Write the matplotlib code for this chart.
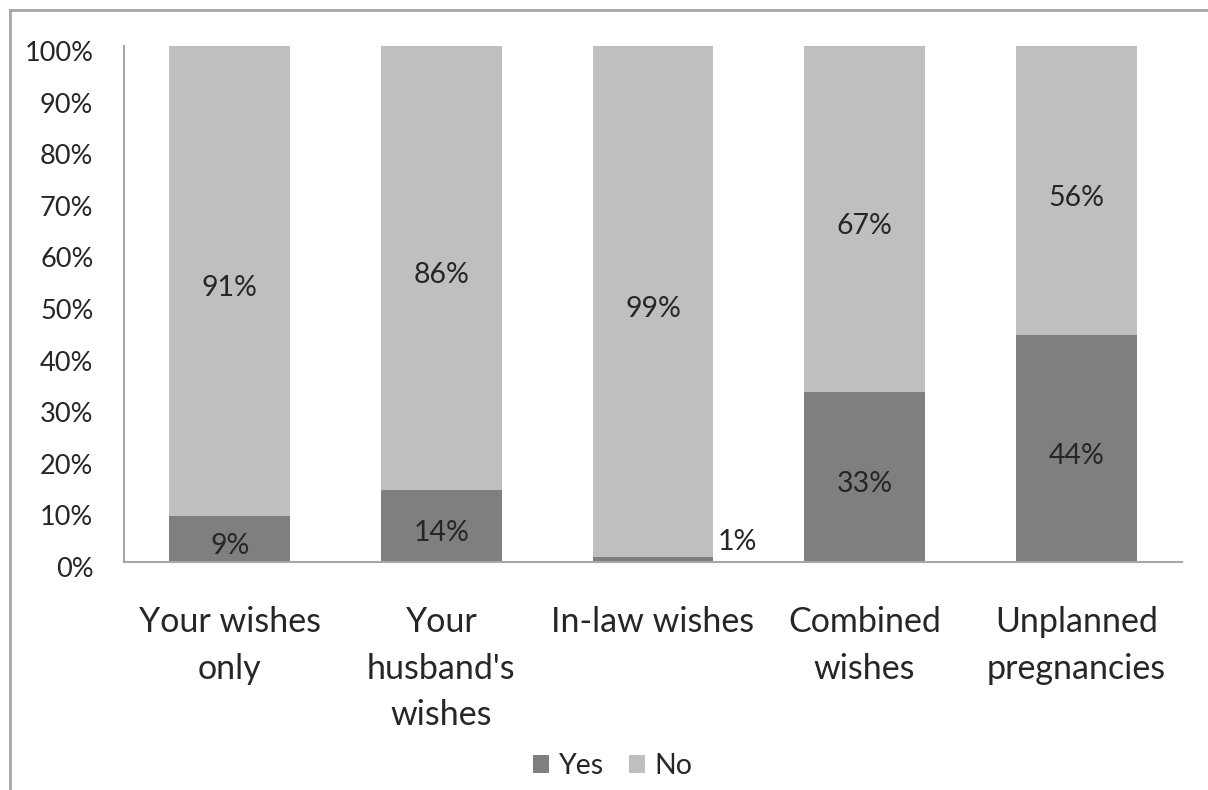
import matplotlib.pyplot as plt
import matplotlib.transforms as mtransforms
import numpy as np
from matplotlib.lines import Line2D

plt.rcParams['font.family'] = ['Lato', 'DejaVu Sans']

# data
categories = ["Your wishes\nonly", "Your\nhusband's\nwishes", "In-law wishes",
              "Combined\nwishes", "Unplanned\npregnancies"]
yes = [9, 14, 1, 33, 44]
no = [91, 86, 99, 67, 56]

yesColor = "#7f7f7f"
noColor = "#bfbfc1"
textColor = "#262626"
lineColor = "#a6a6a6"

fig = plt.figure(figsize=(12.08, 7.9), dpi=100)
ax = fig.add_axes([124/1208, 1 - 562/790, (1182-124)/1208, (562-46)/790])

x = np.arange(len(categories))
w = 0.57
ax.bar(x, yes, w, color=yesColor, label="Yes")
ax.bar(x, no, w, bottom=yes, color=noColor, label="No")

# data labels
for i in range(len(categories)):
    if yes[i] < 5:
        ax.text(x[i] + w/2 + 0.02, yes[i] + 2.8, f"{yes[i]}%", ha="left", va="center",
                fontsize=20.5, color=textColor)
    else:
        ax.text(x[i], yes[i]/2 - 1.4, f"{yes[i]}%", ha="center", va="center",
                fontsize=20.5, color=textColor)
    ax.text(x[i], yes[i] + no[i]/2 - 1.4, f"{no[i]}%", ha="center", va="center",
            fontsize=20.5, color=textColor)

ax.set_xlim(-0.5, len(categories) - 0.5)
ax.set_ylim(0, 100)
ax.set_yticks(range(0, 101, 10))
ax.set_yticklabels([f"{v}%" for v in range(0, 101, 10)], fontsize=19.5, color=textColor)
ax.set_xticks(x)
ax.set_xticklabels(categories, fontsize=24.5, color=textColor, linespacing=1.55, va="top")
ax.tick_params(axis="both", length=0)
ax.tick_params(axis="y", pad=22)
ax.tick_params(axis="x", pad=32)

# excel puts the percent labels a bit below the gridline position
shift = mtransforms.ScaledTranslation(0, -5/100, fig.dpi_scale_trans)
for lbl in ax.get_yticklabels():
    lbl.set_transform(lbl.get_transform() + shift)

for s in ["top", "right"]:
    ax.spines[s].set_visible(False)
for s in ["left", "bottom"]:
    ax.spines[s].set_color(lineColor)
    ax.spines[s].set_linewidth(1.5)

# legend
ax.legend(loc="center", bbox_to_anchor=(613/1208, 1 - 766/790), bbox_transform=fig.transFigure,
          ncol=2, frameon=False, fontsize=20.5, handlelength=0.57, handleheight=0.57,
          handletextpad=0.35, columnspacing=0.85, labelcolor=textColor)

# outer frame (cropped chart border)
fig.add_artist(Line2D([10/1208, 1], [1 - 10/790, 1 - 10/790], transform=fig.transFigure,
                      color=lineColor, linewidth=2))
fig.add_artist(Line2D([10/1208, 10/1208], [0, 1 - 10/790], transform=fig.transFigure,
                      color=lineColor, linewidth=2))

fig.savefig("out.png", dpi=100)
